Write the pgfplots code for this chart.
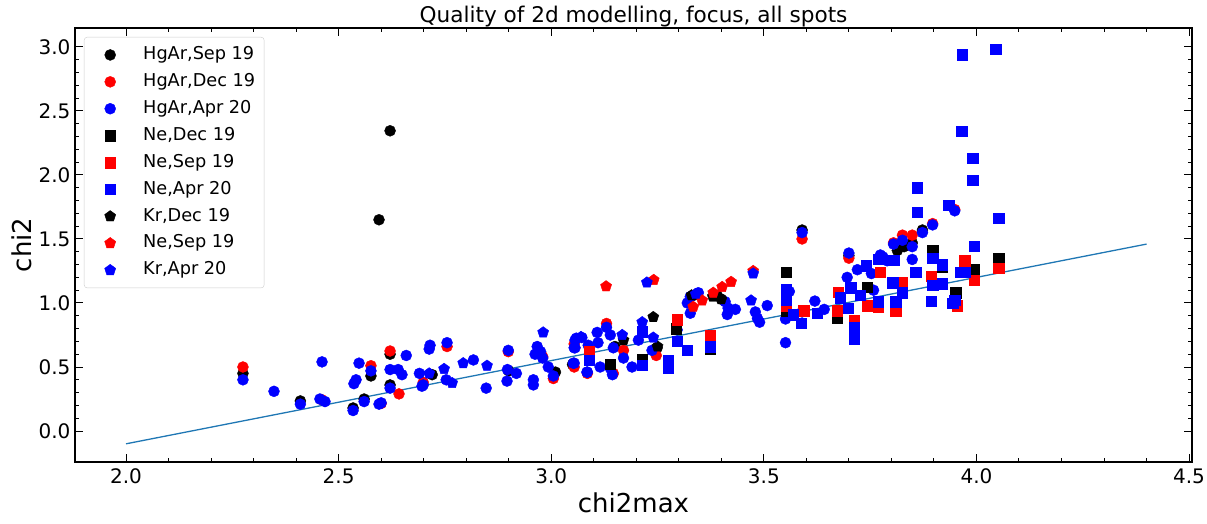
\documentclass[border=0pt]{standalone}
\usepackage{pgfplots}
\pgfplotsset{compat=1.18}
\usepackage{fontspec}
\setmainfont{DejaVu Sans}
\begin{document}
\begin{tikzpicture}
\useasboundingbox (-75pt,-62pt) rectangle (1132pt,462pt);
\begin{axis}[
  scale only axis, width=1117pt, height=434pt,
  xmin=1.88, xmax=4.507, ymin=-0.242, ymax=3.148,
  xtick={2.0,2.5,3.0,3.5,4.0,4.5}, ytick={0,0.5,1.0,1.5,2.0,2.5,3.0},
  minor x tick num=4, minor y tick num=4,
  tick align=inside, xtick pos=both, ytick pos=both,
  major tick length=8pt, minor tick length=4pt,
  every tick/.style={black, line width=1pt},
  axis line style={line width=1.2pt, black},
  /pgf/number format/assume math mode=true,
  /pgf/number format/.cd, fixed, fixed zerofill, precision=1, /pgfplots/.cd,
  tick label style={font=\fontsize{20}{24}\selectfont},
  xticklabel style={yshift=-3pt},
  yticklabel style={xshift=-1pt},
  xlabel={chi2max}, ylabel={chi2},
  label style={font=\fontsize{26}{30}\selectfont},
  xlabel style={yshift=-2pt},
  title={Quality of 2d modelling, focus, all spots},
  title style={font=\fontsize{21.6}{26}\selectfont, yshift=-9pt},
  legend style={at={(0,1)}, anchor=north west, xshift=9pt, yshift=-9pt,
    draw=black!20, rounded corners=3pt, font=\fontsize{17.7}{21}\selectfont,
    inner sep=9pt, row sep=9.4pt, column sep=16pt,
    nodes={inner sep=0pt, text height=13.5pt, text depth=4pt}},
  legend cell align=left,
  legend image code/.code={\path[draw=none,fill=none] (0pt,-6pt) rectangle (34pt,6pt); \draw[mark repeat=2,mark phase=2,#1] plot coordinates {(0pt,0pt) (17pt,0pt) (34pt,0pt)};},
]
% HgAr Sep 19
\addplot[only marks, mark=*, mark size=5.5pt, black, mark options={draw=black, fill=black}] coordinates {
(2.275,0.45) (2.41,0.235) (2.534,0.18) (2.56,0.25) (2.576,0.43) (2.595,1.65) (2.621,2.345) (2.621,0.60) (2.621,0.36) (2.72,0.44) (2.90,0.47) (3.01,0.46) (3.05,0.52) (3.15,0.66) (3.249,0.65) (3.335,1.06) (3.39,1.06) (3.40,1.03) (3.59,1.57) (3.70,1.37) (3.814,1.41) (3.849,1.47) (3.873,1.57) (3.83,1.44)
};
\addlegendentry{HgAr,Sep 19}
% HgAr Dec 19
\addplot[only marks, mark=*, mark size=5.5pt, red, mark options={draw=red, fill=red}] coordinates {
(2.275,0.50) (2.46,0.245) (2.576,0.51) (2.621,0.625) (2.642,0.29) (2.699,0.38) (2.755,0.66) (2.899,0.62) (2.98,0.58) (3.005,0.41) (3.054,0.68) (3.054,0.50) (3.085,0.45) (3.13,0.84) (3.146,0.45) (3.17,0.63) (3.247,0.59) (3.59,1.50) (3.70,1.35) (3.805,1.47) (3.826,1.53) (3.849,1.53) (3.897,1.62) (3.949,1.73) (2.60,0.215)
};
\addlegendentry{HgAr,Dec 19}
% HgAr Apr 20
\addplot[only marks, mark=*, mark size=5.5pt, blue, mark options={draw=blue, fill=blue}] coordinates {
(2.275,0.40) (2.348,0.31) (2.41,0.21) (2.461,0.54) (2.456,0.25) (2.468,0.23) (2.548,0.53) (2.536,0.37) (2.541,0.40) (2.534,0.16) (2.56,0.23) (2.576,0.47) (2.595,0.21) (2.60,0.22) (2.621,0.48) (2.64,0.48) (2.649,0.44) (2.621,0.335) (2.659,0.59) (2.69,0.45) (2.696,0.35) (2.715,0.67) (2.713,0.64) (2.755,0.69) (2.699,0.36) (2.753,0.40) (2.817,0.555) (2.847,0.335) (2.899,0.63) (2.897,0.48) (2.918,0.45) (2.896,0.39) (2.967,0.66) (2.962,0.60) (2.975,0.62) (2.958,0.40) (2.958,0.36) (2.98,0.57) (2.993,0.50) (3.005,0.43) (3.054,0.65) (3.054,0.53) (3.059,0.725) (3.085,0.46) (3.056,0.71) (3.072,0.73) (3.108,0.77) (3.13,0.81) (3.139,0.75) (3.11,0.69) (3.087,0.67) (3.146,0.65) (3.056,0.65) (3.052,0.53) (3.084,0.46) (3.115,0.50) (3.139,0.49) (3.144,0.44) (3.17,0.57) (3.19,0.50) (3.205,0.71) (3.237,0.63) (3.296,0.79) (3.327,1.05) (3.346,1.08) (3.32,1.00) (3.327,0.92) (3.409,1.01) (3.416,0.96) (3.433,0.95) (3.414,0.91) (3.508,0.98) (3.48,0.93) (3.485,0.88) (3.49,0.85) (3.56,1.09) (3.551,0.875) (3.551,0.69) (3.59,0.93) (3.59,1.55) (3.62,1.015) (3.642,0.95) (3.696,1.20) (3.70,1.39) (3.72,1.26) (3.753,1.23) (3.758,1.10) (3.774,1.375) (3.78,1.36) (3.79,1.33) (3.805,1.46) (3.826,1.49) (3.849,1.44) (3.849,1.34) (3.873,1.55) (3.897,1.61) (3.949,1.72)
};
\addlegendentry{HgAr,Apr 20}
% Ne Dec 19
\addplot[only marks, mark=square*, mark size=5.2pt, black, mark options={draw=black, fill=black}] coordinates {
(3.139,0.52) (3.214,0.56) (3.294,0.80) (3.374,0.64) (3.553,1.24) (3.553,0.94) (3.673,0.88) (3.743,1.125) (3.897,1.41) (3.92,1.28) (3.995,1.26) (4.052,1.35) (3.951,1.08)
};
\addlegendentry{Ne,Dec 19}
% Ne Sep 19
\addplot[only marks, mark=square*, mark size=5.2pt, red, mark options={draw=red, fill=red}] coordinates {
(3.089,0.62) (3.296,0.87) (3.374,0.75) (3.553,0.98) (3.594,0.94) (3.673,0.94) (3.675,1.085) (3.713,0.865) (3.743,0.98) (3.769,0.97) (3.774,1.24) (3.826,1.16) (3.81,0.94) (3.894,1.21) (3.972,1.33) (3.995,1.18) (4.052,1.27) (3.955,0.98) (3.826,1.15)
};
\addlegendentry{Ne,Sep 19}
% Ne Apr 20
\addplot[only marks, mark=square*, mark size=5.2pt, blue, mark options={draw=blue, fill=blue}] coordinates {
(3.089,0.555) (3.214,0.515) (3.214,0.775) (3.275,0.55) (3.275,0.49) (3.296,0.70) (3.32,0.63) (3.374,0.66) (3.553,1.11) (3.553,1.02) (3.569,0.91) (3.588,0.84) (3.626,0.92) (3.68,1.04) (3.699,0.96) (3.704,1.12) (3.713,0.81) (3.713,0.72) (3.727,1.06) (3.741,1.29) (3.769,1.01) (3.769,1.34) (3.805,1.335) (3.803,1.16) (3.81,1.01) (3.826,1.08) (3.857,1.24) (3.861,1.90) (3.861,1.71) (3.897,1.35) (3.897,1.14) (3.92,1.30) (3.92,1.15) (3.935,1.765) (3.965,2.34) (3.967,2.94) (4.045,2.98) (3.991,2.13) (3.991,1.96) (4.052,1.66) (3.995,1.445) (3.962,1.24) (3.972,1.24) (3.894,1.015) (3.949,1.02) (3.944,1.00)
};
\addlegendentry{Ne,Apr 20}
% Kr Dec 19
\addplot[only marks, mark=pentagon*, mark size=5.8pt, black, mark options={draw=black, fill=black}] coordinates {
(3.24,0.89) (3.17,0.71) (3.38,1.05) (3.40,1.03) (3.33,1.06) (3.25,0.66)
};
\addlegendentry{Kr,Dec 19}
% Ne Sep 19 (pentagons)
\addplot[only marks, mark=pentagon*, mark size=5.8pt, red, mark options={draw=red, fill=red}] coordinates {
(3.129,1.13) (3.241,1.18) (3.334,0.97) (3.381,1.08) (3.402,1.125) (3.423,1.165) (3.475,1.25) (3.355,1.02)
};
\addlegendentry{Ne,Sep 19}
% Kr Apr 20
\addplot[only marks, mark=pentagon*, mark size=5.8pt, blue, mark options={draw=blue, fill=blue}] coordinates {
(2.713,0.45) (2.748,0.485) (2.767,0.375) (2.793,0.53) (2.849,0.51) (2.981,0.77) (3.07,0.735) (3.167,0.75) (3.214,0.85) (3.225,1.16) (3.475,1.23) (3.47,1.02) (3.34,1.07) (3.24,0.73)
};
\addlegendentry{Kr,Apr 20}
% fit line
\addplot[color={rgb,255:red,31;green,119;blue,180}, line width=1.3pt, forget plot] coordinates {(2.0,-0.1) (4.4,1.46)};
\end{axis}
\end{tikzpicture}
\end{document}
